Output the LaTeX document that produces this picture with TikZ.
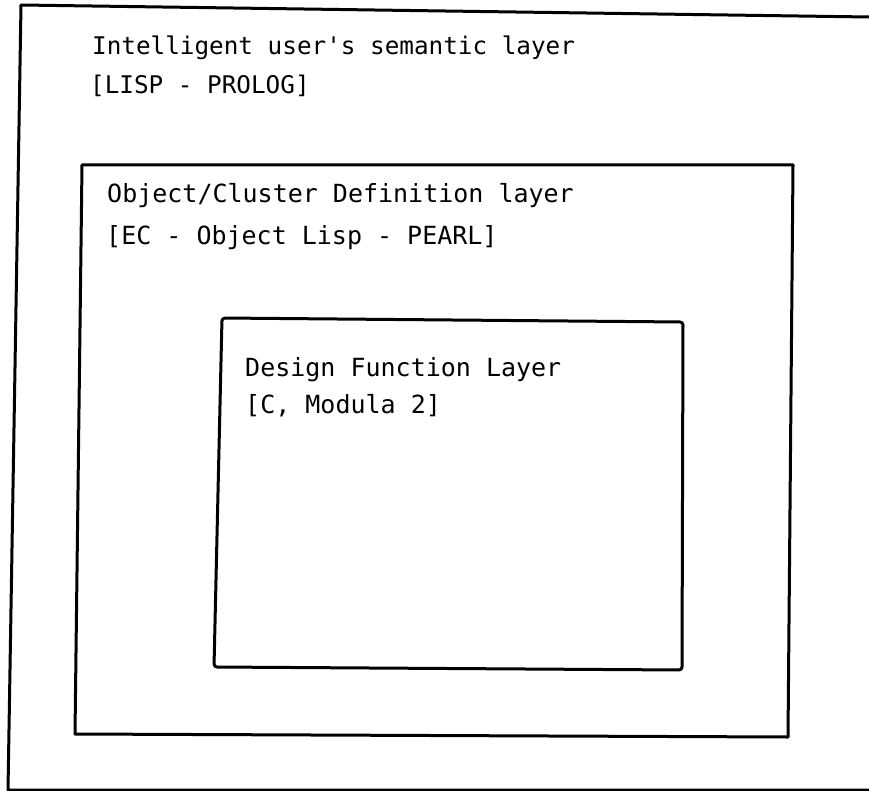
\documentclass[tikz,border=0pt]{standalone}
\usepackage{fontspec}
\setmonofont{DejaVu Sans Mono}
\begin{document}
\begin{tikzpicture}[x=1pt,y=-1pt,
  frame/.style={line width=3pt, line join=round, line cap=round, black},
  outertext/.style={anchor=base west, inner sep=0pt, font=\ttfamily\fontsize{24.3}{29}\selectfont},
  layertext/.style={anchor=base west, inner sep=0pt, font=\ttfamily\fontsize{25}{30}\selectfont}]
  \useasboundingbox (0,0) rectangle (869,791);

  % outermost layer: open towards the right
  \coordinate (oTR) at (869,17);
  \coordinate (oTL) at (21,5);
  \coordinate (oBL) at (8,790);
  \coordinate (oBR) at (869,790);
  \draw[frame] (oTR) -- (oTL) -- (oBL) -- (oBR);

  % object / cluster definition layer
  \coordinate (mTL) at (82,165);
  \coordinate (mTR) at (793,165);
  \coordinate (mBR) at (788,737);
  \coordinate (mBL) at (75,734);
  \draw[frame] (mTL) -- (mTR) -- (mBR) -- (mBL) -- cycle;

  % design function layer
  \coordinate (iTL) at (222,318);
  \coordinate (iTR) at (683,322);
  \coordinate (iBR) at (682,670);
  \coordinate (iBL) at (214,667);
  \draw[frame, rounded corners=3pt] (iTL) -- (iTR) -- (iBR) -- (iBL) -- cycle;

  % labels
  \node[outertext] (usertitle) at (92,55) {Intelligent user's semantic layer};
  \node[outertext] (userlang)  at (90,94) {[LISP - PROLOG]};
  \node[layertext] (objtitle)  at (107,203) {Object/Cluster Definition layer};
  \node[layertext] (objlang)   at (106,245) {[EC - Object Lisp - PEARL]};
  \node[layertext] (funtitle)  at (245,376) {Design Function Layer};
  \node[layertext] (funlang)   at (245,413) {[C, Modula 2]};
\end{tikzpicture}
\end{document}
